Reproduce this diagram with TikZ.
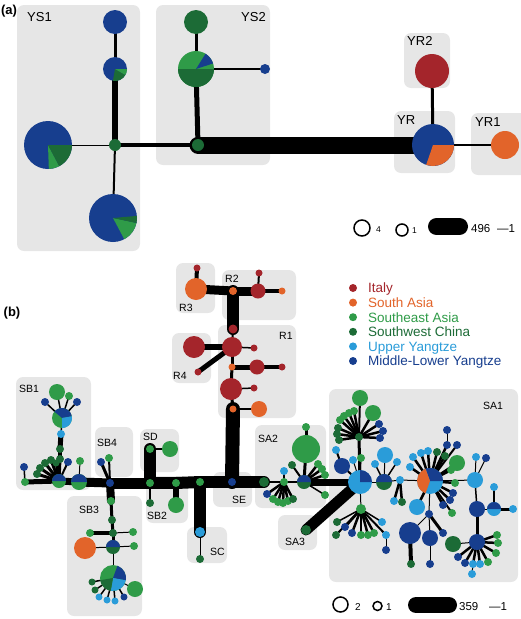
\documentclass[tikz,border=0pt]{standalone}
\usepackage{fontspec}
\setmainfont{Liberation Sans}
\pgfdeclarelayer{boxes}
\pgfdeclarelayer{edges}
\pgfsetlayers{boxes,edges,main}
\definecolor{cIt}{HTML}{A4252B}
\definecolor{cSA}{HTML}{E2642A}
\definecolor{cSEA}{HTML}{2F9B48}
\definecolor{cSWC}{HTML}{1C6B36}
\definecolor{cUY}{HTML}{2A9CD9}
\definecolor{cML}{HTML}{173E8E}
\definecolor{boxgray}{HTML}{E6E6E6}
\tikzset{
  hn/.style={circle, inner sep=0pt, draw=none},
  grp/.style={fill=boxgray, rounded corners=7pt},
  lbla/.style={font=\fontsize{13}{15}\selectfont, inner sep=0pt, anchor=base west},
  lblb/.style={font=\fontsize{10.5}{12}\selectfont, inner sep=0pt, anchor=base west},
  leg/.style={font=\fontsize{13.5}{15}\selectfont, inner sep=0pt, anchor=base west},
  scl/.style={circle, draw=black, line width=1.5pt, inner sep=0pt},
  pill/.style={line width=#1, line cap=round, black},
}
\newcommand{\HN}[4]{\node[hn, minimum size={2*#3pt}, fill=#4] (#1) at (#2) {};}
\newcommand{\HP}[5]{\HN{#1}{#2}{#3}{#4}%
  \foreach \sa/\sb/\sc in {#5}{\fill[\sc] (#1.center) -- ++(\sa:#3pt) arc[start angle=\sa, end angle=\sb, radius=#3pt] -- cycle;}}
\newcommand{\ED}[1]{\foreach \aa/\bb/\ww in {#1}{\draw[black, line cap=round, line width=\ww pt] (\aa.center) -- (\bb.center);}}
\newcommand{\NL}[1]{\foreach \nn/\xx/\yy/\rr/\cc in {#1}{\HN{\nn}{\xx,\yy}{\rr}{\cc}}}
\begin{document}
\begin{tikzpicture}[x=1pt, y=-1pt]
\useasboundingbox (0,0) rectangle (520,619);
% ---------------- boxes ----------------
\begin{pgfonlayer}{boxes}
\fill[grp] (17,5) rectangle (140,251);
\fill[grp] (156,5) rectangle (270,165);
\fill[grp] (404,33) rectangle (450,88);
\fill[grp] (394,111) rectangle (455,173);
\fill[grp] (471,113) rectangle (528,175);
% (b)
\fill[grp] (176,263) rectangle (215,313);
\fill[grp] (222,270) rectangle (296,320);
\fill[grp] (218,325) rectangle (296,418);
\fill[grp] (172,333) rectangle (211,383);
\fill[grp] (16,377) rectangle (91,490);
\fill[grp] (95,427) rectangle (133,477);
\fill[grp] (140,429) rectangle (179,472);
\fill[grp] (146,476) rectangle (188,523);
\fill[grp] (67,496) rectangle (142,616);
\fill[grp] (187,527) rectangle (227,563);
\fill[grp] (213,472) rectangle (252,507);
\fill[grp] (255,425) rectangle (326,508);
\fill[grp] (278,515) rectangle (317,550);
\fill[grp] (329,389) rectangle (518,582);
\end{pgfonlayer}
% ---------------- labels ----------------
\node[font=\bfseries\fontsize{13}{15}\selectfont, inner sep=0pt] (la) at (9,11) {(a)};
\node[font=\bfseries\fontsize{13}{15}\selectfont, inner sep=0pt] (lb) at (12,313) {(b)};
\node[lbla] (tys1) at (27,21) {YS1};
\node[lbla] (tys2) at (241,21) {YS2};
\node[lbla] (tyr2) at (407,45) {YR2};
\node[lbla] (tyr) at (397,124) {YR};
\node[lbla] (tyr1) at (475,126) {YR1};
\node[lblb] (tsb1) at (19,392) {SB1};
\node[lblb] (tsb4) at (97,446) {SB4};
\node[lblb] (tsd) at (143,440) {SD};
\node[lblb] (tsb3) at (79,513) {SB3};
\node[lblb] (tsb2) at (147,519) {SB2};
\node[lblb] (tsc) at (210,555) {SC};
\node[lblb] (tse) at (232,503) {SE};
\node[lblb] (tsa2) at (258,442) {SA2};
\node[lblb] (tsa3) at (285,545) {SA3};
\node[lblb] (tsa1) at (483,409) {SA1};
\node[lblb] (tr1) at (279,339) {R1};
\node[lblb] (tr2) at (225,282) {R2};
\node[lblb] (tr3) at (179,311) {R3};
\node[lblb] (tr4) at (173,379) {R4};
% ---------------- (a) nodes ----------------
\HN{ys1a}{115,22}{12}{cML}
\HP{ys1b}{115,69}{12}{cML}{-100/-30/cSWC, -30/0/cSEA}
\HN{ys1c}{115,145}{6}{cSWC}
\HP{ys1L}{48,145}{24}{cML}{-88/-62/cSEA, -62/0/cSWC}
\HP{ys1B}{113,218}{24}{cML}{-62/-12/cSEA, -12/5/cSWC}
\HN{ys2a}{196,22}{12}{cSWC}
\HP{ys2b}{196,69}{18}{cSEA}{180/360/cSWC, 18/58/cML}
\HN{ys2c}{265,69}{5}{cML}
\HN{ys2d}{198,145}{6}{cSWC}
\HP{yr}{433,145}{21}{cML}{-109/0/cSA}
\HN{yr2}{432,71}{17}{cIt}
\HN{yr1}{505,145}{14}{cSA}
\begin{pgfonlayer}{edges}
\ED{ys1a/ys1b/3, ys1b/ys1c/6, ys1c/ys1L/1, ys1c/ys1B/2, ys1c/ys2d/3.5, ys2d/ys2b/5, ys2b/ys2a/3, ys2b/ys2c/2, ys2d/yr/17, yr/yr2/3, yr/yr1/2}
\end{pgfonlayer}
% scale (a)
\node[scl, minimum size=16pt] (s4) at (362,228) {};
\node[inner sep=0pt, anchor=base west, font=\fontsize{8.5}{10}\selectfont] (s4t) at (376,232) {4};
\node[scl, minimum size=12pt] (s1) at (402,230) {};
\node[inner sep=0pt, anchor=base west, font=\fontsize{8.5}{10}\selectfont] (s1t) at (412,233) {1};
\coordinate (pa1) at (436.5,226.5);
\coordinate (pa2) at (459.5,226.5);
\draw[pill=17pt] (pa1) -- (pa2);
\node[inner sep=0pt, anchor=base west, font=\fontsize{11.5}{13}\selectfont] (s496) at (471,232) {496};
\node[inner sep=0pt, anchor=base west, font=\fontsize{11.5}{13}\selectfont] (s1a) at (497,232) {—1};
% ---------------- (b) legend ----------------
\HN{lg1}{353,288}{4}{cIt}
\HN{lg2}{353,302.6}{4}{cSA}
\HN{lg3}{353,317.2}{4}{cSEA}
\HN{lg4}{353,331.8}{4}{cSWC}
\HN{lg5}{353,346.4}{4}{cUY}
\HN{lg6}{353,361}{4}{cML}
\node[leg, text=cIt] (lt1) at (368,292.8) {Italy};
\node[leg, text=cSA] (lt2) at (368,307.4) {South Asia};
\node[leg, text=cSEA] (lt3) at (368,322) {Southeast Asia};
\node[leg, text=cSWC] (lt4) at (368,336.6) {Southwest China};
\node[leg, text=cUY] (lt5) at (368,351.2) {Upper Yangtze};
\node[leg, text=cML] (lt6) at (368,365.8) {Middle-Lower Yangtze};
% scale (b)
\node[scl, minimum size=15pt] (t2) at (340.5,604.5) {};
\node[inner sep=0pt, anchor=base west, font=\fontsize{10}{12}\selectfont] (t2t) at (355,610) {2};
\node[scl, minimum size=9pt] (t1) at (377.5,606) {};
\node[inner sep=0pt, anchor=base west, font=\fontsize{10}{12}\selectfont] (t1t) at (386,610) {1};
\coordinate (pb1) at (416,605);
\coordinate (pb2) at (449,605);
\draw[pill=16pt] (pb1) -- (pb2);
\node[inner sep=0pt, anchor=base west, font=\fontsize{11.5}{13}\selectfont] (s359) at (459,610.5) {359};
\node[inner sep=0pt, anchor=base west, font=\fontsize{11.5}{13}\selectfont] (s1b) at (489,610.5) {—1};
% ---------------- (b) R region ----------------
\NL{r3a/197/268/3.5/cIt, r3/196/289/11/cSA, r2j/233/291/4/cSA, r2r/258/291/7.5/cIt, r2o/282/291/3.5/cSA, r2t/259/273/3.5/cIt,
    r1a/233/329/4.5/cIt, r1b/232/347/10/cIt, r1c/254/348/3.5/cIt, r4/194/347/11/cIt, r4b/198/372/3.5/cIt,
    r1d/232/367/3.5/cSA, r1e/257/367/7.5/cIt, r1f/282/367/3.5/cIt, r1g/231/389/11/cIt, r1h/254/388/3.5/cIt,
    r1i/233/409/3.5/cSA, r1j/259/409/8/cSA}
% main line
\NL{sb1x/24/467/4/cML, sb1y/25/482/4/cSEA, sb4h/110/483/4/cML, sdn/150/483/4/cSEA, sb2n/176/483/4/cSEA,
    scj/200/482/4/cSEA, se/232/482/4/cML, sa2l/264/482/5/cSWC}
\HP{sb1h}{59,481}{7}{cSEA}{0/180/cML}
\HP{sb1p2}{79,482}{8}{cSEA}{0/180/cML}
% SB1
\NL{sb1f1/37/474/4/cSWC, sb1f2/40/468/4/cSWC, sb1f3/45/463/4/cSWC, sb1f4/51/460/4/cSWC, sb1f5/56/463/3.5/cSWC,
    sb1f6/68/462/4/cML, sb1c1/60/459/4/cSWC, sb1c2/60/449/4/cSWC, sb1c3/61/434/4/cUY,
    sb1t1/57/392/8/cSEA, sb1t2/69/396/4/cSEA, sb1t3/45/402/4/cML, sb1t4/77/402/4/cML, sb1g/80/461/4/cSEA}
\HP{sb1p}{62,418}{10}{cSEA}{10/140/cML, -90/10/cUY}
% SB4, SD, SB2, SC
\NL{sb4a/101/462/4/cML, sb4b/109/458/4/cSEA, sda/150/449/4/cSEA, sdb/170/449/8/cSEA, sdc/150/503/4/cSWC,
    sb2b/176/505/8/cSEA, sca/200/532/5/cUY, scb/200/559/4/cSWC}
% SB3
\NL{sb3a/111/501/4/cSEA, sb3b/112/520/4/cSWC, sb3c/113/533/4/cSWC, sb3d/90/533/4/cSEA, sb3e/133/532/4/cSEA,
    sb3o/85/548/11/cSA, sb3f/134/546/4/cSEA, sb3g/135/589/8/cSEA,
    sb3s1/92/582/3.5/cSWC, sb3s2/95/590/3.5/cSWC, sb3s3/99/597/3.5/cUY, sb3s4/107/600/3.5/cUY, sb3s5/115/601/3.5/cUY, sb3s6/124/597/3.5/cML}
\HP{sb3p}{113,547}{7}{cSWC}{0/180/cML}
\HP{sb3big}{113,578}{13}{cSEA}{-10/70/cML, -100/-10/cUY, 190/260/cSWC}
% SA2
\NL{sa2g/284/482/4/cSEA, sa2lb/284/471/4/cUY, sa2big/306/449/14/cSEA, sa2top/306/427/4/cSEA, sa2d1/292/465/4/cSWC,
    sa2r1/318/464/4/cSEA, sa2r2/322/469/4/cSEA, sa2r3/325/475/4/cSEA, sa2r4/325/495/4/cSEA,
    sa2f1/267/494/4/cML, sa2f2/273/499/4/cSEA, sa2f3/278/502/4/cSEA, sa2f4/283/503/4/cSEA, sa2f5/288/501/4/cSEA, sa2f6/293/499/4/cSWC,
    sa3/306/530/5/cSWC}
\HP{sa2h}{304,482}{7}{cSWC}{0/180/cML}
% SA1
\HP{sa1h1}{360,482}{12}{cUY}{0/90/cML}
\NL{sa1tf/359/437/4/cSWC, sa1tg/360/398/8/cSEA, sa1tg2/373/413/8/cSEA,
    sa1t1/340/420/4/cSEA, sa1t2/344/416/4/cSEA, sa1t3/349/413/4/cSEA, sa1t4/354/411/4/cSEA,
    sa1t5/338/428/4/cSWC, sa1t6/337/434/4/cSWC, sa1t7/339/440/4/cSWC,
    sa1t8/379/424/4/cML, sa1t9/383/431/4/cML, sa1t10/380/438/4/cML,
    sa1bl/342/466/8/cML, sa1lb1/336/450/4/cUY, sa1lb2/353/460/4/cUY, sa1lg/361/458/4/cSEA,
    sa1bg/361/509/5/cSEA, sa1b1/337/522/4/cSWC, sa1b2/336/535/4/cSWC, sa1b3/345/527/4/cML, sa1b4/352/533/4/cML,
    sa1b5/361/535/4/cSEA, sa1b6/368/535/4/cSEA, sa1b7/374/533/4/cSEA, sa1b8/382/522/4/cUY, sa1b9/386/535/4/cUY, sa1b10/386/550/4/cML}
\HP{sa1h2}{384,482}{8}{cSWC}{0/180/cML}
\NL{sa1h2u/385/455/8/cUY, sa1h2a/375/464/4/cUY, sa1h2b/397/462/4/cUY, sa1j/400/480/4/cUY, sa1j1/394/501/4/cUY, sa1j2/402/502/4/cSWC}
\HP{sa1h3}{430,481}{13}{cUY}{0/110/cML, 110/250/cSA}
\NL{sa1u1/410/467/4/cUY, sa1u2/413/457/4/cUY, sa1u3/421/453/4/cUY, sa1u4/428/451/4/cUY, sa1u5/437/452/4/cSWC,
    sa1u6/445/456/4/cSWC, sa1u7/457/463/8/cSEA, sa1u8/451/470/4/cSEA, sa1u9/455/483/4/cSEA,
    sa1u10/447/445/4/cML, sa1u11/447/430/4/cML, sa1u12/457/445/4/cML,
    sa1r1/453/493/4/cML, sa1r2/450/500/4/cML, sa1r3/443/505/4/cML, sa1r4/452/513/4/cSEA,
    sa1lb/417/507/8/cUY, sa1d1/429/514/4/cML, sa1d2/410/533/11/cML, sa1d3/430/538/8/cML, sa1d4/443/533/4/cML,
    sa1d5/411/564/4/cSWC, sa1d6/430/564/4/cML}
\NL{sa1h4/475/480/8/cUY, sa1h4a/476/457/4/cUY, sa1h4b/486/458/4/cML, sa1h4c/477/509/8/cML,
    sa1pa/494/487/4/cUY, sa1pb/513/509/4/cUY, sa1h5/477/542/8/cML, sa1h5g/453/544/8/cSWC,
    sa1f1/497/535/4/cSEA, sa1f2/498/543/4/cSEA, sa1f3/496/553/4/cSEA, sa1f4/488/562/4/cSEA, sa1f5/480/564/4/cUY,
    sa1f6/473/564/4/cUY, sa1f7/465/563/4/cML, sa1f8/458/557/4/cML, sa1f9/472/574/4/cUY}
\HP{sa1p}{494,509}{7}{cUY}{0/180/cML}
% ---------------- (b) edges ----------------
\begin{pgfonlayer}{edges}
\ED{r3a/r3/4, r3/r2j/9, r2j/r2r/9, r2r/r2o/4, r2r/r2t/2, r2j/r1a/12, r1a/r1b/2, r1b/r1c/1.5, r1b/r4/6, r1b/r4b/5,
    r1b/r1d/3, r1d/r1e/5, r1e/r1f/3.5, r1d/r1g/3, r1g/r1h/1.5, r1g/r1i/3, r1i/r1j/1.5, r1i/se/14}
\ED{sb1x/sb1y/1.5, sb1y/sb1h/5, sb1h/sb1p2/7, sb1p2/sb4h/9, sb4h/sdn/11, sdn/sb2n/12, sb2n/scj/12, scj/se/12, se/sa2l/12,
    sa2l/sa2g/1.5, sa2g/sa2h/2, sa2h/sa1h1/7, sa3/sa1h1/11}
\ED{sb1h/sb1f1/3, sb1h/sb1f2/3, sb1h/sb1f3/3, sb1h/sb1f4/3, sb1h/sb1f5/2.5, sb1h/sb1f6/2, sb1h/sb1c1/3, sb1c1/sb1c2/4,
    sb1c2/sb1c3/5, sb1c3/sb1p/1.5, sb1p/sb1t1/1.5, sb1p/sb1t2/1.5, sb1p/sb1t3/1.5, sb1p/sb1t4/1.5, sb1p2/sb1g/1}
\ED{sb4h/sb4a/3, sb4h/sb4b/2, sda/sdn/12, sda/sdb/1.5, sdn/sdc/2, sb2n/sb2b/6, scj/sca/12, sca/scb/1}
\ED{sb4h/sb3a/8, sb3a/sb3b/3, sb3b/sb3c/3, sb3c/sb3d/4, sb3c/sb3e/1, sb3c/sb3p/3, sb3p/sb3o/1, sb3p/sb3f/1, sb3p/sb3big/1,
    sb3big/sb3g/1, sb3big/sb3s1/1.5, sb3big/sb3s2/1.5, sb3big/sb3s3/1.5, sb3big/sb3s4/1.5, sb3big/sb3s5/1.5, sb3big/sb3s6/1.5}
\ED{sa2g/sa2lb/1.5, sa2g/sa2f1/2.5, sa2g/sa2f2/2.5, sa2g/sa2f3/2.5, sa2g/sa2f4/2.5, sa2g/sa2f5/2.5, sa2g/sa2f6/2.5,
    sa2h/sa2big/3, sa2big/sa2top/3, sa2h/sa2d1/2, sa2h/sa2r1/2.5, sa2h/sa2r2/2.5, sa2h/sa2r3/2.5, sa2h/sa2r4/1.5}
\ED{sa1h1/sa1tf/3, sa1tf/sa1tg/2, sa1tf/sa1tg2/2.5, sa1tf/sa1t1/2.5, sa1tf/sa1t2/2.5, sa1tf/sa1t3/2.5, sa1tf/sa1t4/2.5,
    sa1tf/sa1t5/2.5, sa1tf/sa1t6/2.5, sa1tf/sa1t7/2.5, sa1tf/sa1t8/2.5, sa1tf/sa1t9/2.5, sa1tf/sa1t10/2.5,
    sa1h1/sa1bl/2, sa1bl/sa1lb1/2, sa1h1/sa1lb2/1, sa1h1/sa1lg/1,
    sa1h1/sa1bg/1, sa1bg/sa1b1/1.5, sa1bg/sa1b2/2, sa1bg/sa1b3/2.5, sa1bg/sa1b4/2.5, sa1bg/sa1b5/2.5, sa1bg/sa1b6/2.5,
    sa1bg/sa1b7/2.5, sa1bg/sa1b8/1.5, sa1bg/sa1b9/2, sa1b9/sa1b10/1}
\ED{sa1h1/sa1h2/1, sa1h2/sa1h2u/1, sa1h2/sa1h2a/1.5, sa1h2/sa1h2b/1.5, sa1h2/sa1j/1, sa1j/sa1j1/2.5, sa1j/sa1j2/2.5, sa1j/sa1h3/1}
\ED{sa1h3/sa1u1/2.5, sa1h3/sa1u2/2.5, sa1h3/sa1u3/2.5, sa1h3/sa1u4/2.5, sa1h3/sa1u5/2.5, sa1h3/sa1u6/2.5, sa1h3/sa1u7/2.5,
    sa1h3/sa1u8/2.5, sa1h3/sa1u9/2.5, sa1h3/sa1u10/2.5, sa1u10/sa1u11/1, sa1h3/sa1u12/2,
    sa1h3/sa1r1/2.5, sa1h3/sa1r2/2.5, sa1h3/sa1r3/2.5, sa1h3/sa1r4/2,
    sa1h3/sa1lb/2.5, sa1h3/sa1d1/1, sa1d1/sa1d2/1, sa1d1/sa1d3/1, sa1d1/sa1d4/3, sa1d2/sa1d5/4, sa1d3/sa1d6/1}
\ED{sa1h3/sa1h4/1, sa1h4/sa1h4a/1, sa1h4/sa1h4b/1, sa1h4/sa1h4c/1.5, sa1h4c/sa1p/1, sa1p/sa1pa/2.5, sa1p/sa1pb/3,
    sa1h4c/sa1h5/3, sa1h5/sa1h5g/1, sa1h5/sa1f1/2.5, sa1h5/sa1f2/2.5, sa1h5/sa1f3/2.5, sa1h5/sa1f4/2.5, sa1h5/sa1f5/2.5,
    sa1h5/sa1f6/2.5, sa1h5/sa1f7/2.5, sa1h5/sa1f8/2.5, sa1f6/sa1f9/1}
\end{pgfonlayer}
\end{tikzpicture}
\end{document}
